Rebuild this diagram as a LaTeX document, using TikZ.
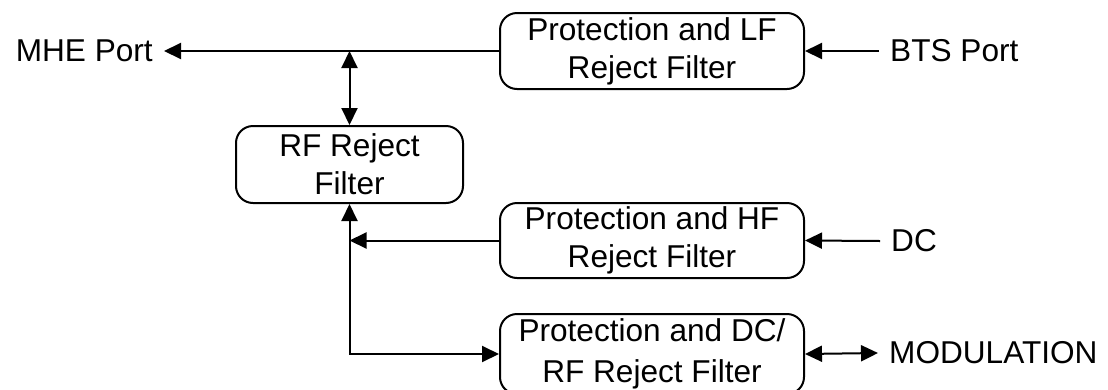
\documentclass[tikz,border=0pt]{standalone}
\usepackage{fontspec}
\setmainfont{Liberation Sans}
\usetikzlibrary{arrows.meta}
\begin{document}
\begin{tikzpicture}[x=1bp, y=-1bp,
  txt/.style={font=\fontsize{31.6bp}{38bp}\selectfont},
  box/.style={txt, draw, line width=2bp, rounded corners=17bp, inner sep=0pt,
    align=center, minimum width=304bp, minimum height=76bp},
  port/.style={txt, inner xsep=11bp, inner ysep=0pt},
  wire/.style={line width=2bp},
  tipend/.style={wire, -{Triangle[length=17bp,width=16bp]}},
  tipboth/.style={wire, {Triangle[length=17bp,width=16bp]}-{Triangle[length=17bp,width=16bp]}}]
  \useasboundingbox (0,0) rectangle (1108,389);

  % filter blocks
  \node[box] (lf) at (652,51) {Protection and LF\\Reject Filter};
  \node[box, minimum width=227bp, minimum height=77bp] (rf) at (349.5,164.5) {RF Reject\\Filter};
  \node[box, minimum height=75bp] (hf) at (652,240.5) {Protection and HF\\Reject Filter};
  \node[box, minimum height=80bp, font=\fontsize{31.6bp}{41bp}\selectfont] (dcrf) at (652,354)
    {Protection and DC/\\RF Reject Filter};

  % ports
  \node[port, anchor=east] (mhe) at (164,51) {MHE Port};
  \node[port, anchor=west] (bts) at (879,51) {BTS Port};
  \node[port, anchor=west] (dc) at (880,241) {DC};
  \node[port, anchor=west] (mod) at (878,353) {MODULATION};

  % main line and tap to the RF block
  \coordinate (tap) at (rf.north |- lf.west);
  \draw[tipend] (lf.west) -- (mhe.east);
  \draw[tipboth] (tap) -- (rf.north);
  \draw[tipend] (bts.west) -- (lf.east);

  % lower branch
  \draw[tipend] (hf.west) -- (hf.west -| rf.south);
  \draw[tipend] (dc.west) -- (hf.east);
  \draw[tipboth] (rf.south) |- (dcrf.west);
  \draw[tipboth] (dcrf.east) -- (mod.west);
\end{tikzpicture}
\end{document}
